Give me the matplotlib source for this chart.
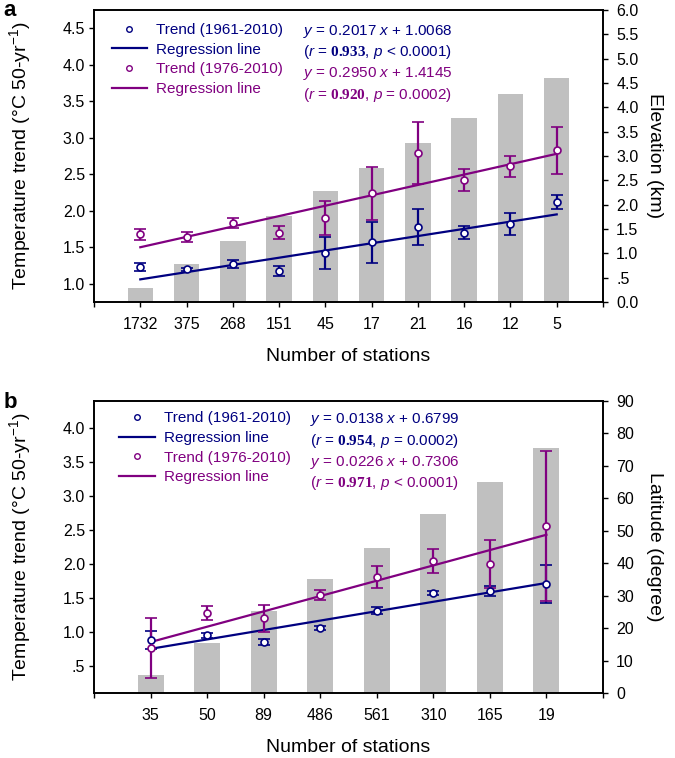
import numpy as np
import matplotlib
matplotlib.use('Agg')
import matplotlib.pyplot as plt
from matplotlib.lines import Line2D

plt.rcParams['font.family'] = ['Liberation Sans', 'DejaVu Sans']
plt.rcParams['mathtext.fontset'] = 'custom'
plt.rcParams['mathtext.rm'] = 'Liberation Sans'
plt.rcParams['mathtext.it'] = 'Liberation Sans:italic'
plt.rcParams['mathtext.bf'] = 'Liberation Serif:bold'

BLUE = '#000080'
PURPLE = '#800080'
GREY = '#c0c0c0'

# ---- panel a : elevation bands ----
stations_a = ['1732', '375', '268', '151', '45', '17', '21', '16', '12', '5']
elev_km = [0.29, 0.78, 1.25, 1.77, 2.28, 2.75, 3.26, 3.78, 4.27, 4.60]
trend61_a = [1.23, 1.20, 1.27, 1.17, 1.42, 1.57, 1.78, 1.70, 1.82, 2.12]
err61_a = [0.05, 0.02, 0.06, 0.07, 0.22, 0.28, 0.25, 0.09, 0.15, 0.09]
trend76_a = [1.68, 1.64, 1.83, 1.70, 1.90, 2.24, 2.79, 2.42, 2.61, 2.83]
err76_a = [0.075, 0.07, 0.07, 0.085, 0.23, 0.36, 0.43, 0.15, 0.145, 0.32]
reg61_a = [1.06, 1.95]   # regression line, first and last band
reg76_a = [1.50, 2.78]
eq_a = [r'$y$ = 0.2017 $x$ + 1.0068', r'($r$ = $\mathbf{0.933}$, $p$ < 0.0001)',
        r'$y$ = 0.2950 $x$ + 1.4145', r'($r$ = $\mathbf{0.920}$, $p$ = 0.0002)']

# ---- panel b : latitude bands ----
stations_b = ['35', '50', '89', '486', '561', '310', '165', '19']
lat_deg = [5.5, 15.4, 25.3, 35.1, 44.7, 55.2, 65.0, 75.5]
trend61_b = [0.88, 0.95, 0.85, 1.06, 1.31, 1.57, 1.60, 1.71]
err61_b = [0.13, 0.04, 0.04, 0.03, 0.05, 0.03, 0.07, 0.28]
trend76_b = [0.76, 1.28, 1.20, 1.54, 1.81, 2.04, 2.00, 2.56]
err76_b = [0.44, 0.10, 0.20, 0.07, 0.16, 0.18, 0.36, 1.11]
reg61_b = [0.75, 1.72]
reg76_b = [0.85, 2.43]
eq_b = [r'$y$ = 0.0138 $x$ + 0.6799', r'($r$ = $\mathbf{0.954}$, $p$ = 0.0002)',
        r'$y$ = 0.0226 $x$ + 0.7306', r'($r$ = $\mathbf{0.971}$, $p$ < 0.0001)']


def draw_panel(rect, labels, bars, t61, e61, t76, e76, r61, r76, eqs,
               ylim, yticks, yticklabels, rlim, rticks, rticklabels, rlabel,
               barw, leg_xy, eq_x, eq_ys):
    ax = fig.add_axes(rect)
    ax2 = ax.twinx()
    n = len(labels)
    x = np.arange(1, n + 1)

    ax2.bar(x, bars, width=barw, color=GREY, zorder=1)
    ax2.set_ylim(*rlim)
    ax2.set_yticks(rticks)
    ax2.set_yticklabels(rticklabels)
    ax2.set_ylabel(rlabel, rotation=-90, fontsize=14)
    ax2.yaxis.set_label_coords(1.118, 0.5)

    ax.set_zorder(ax2.get_zorder() + 1)
    ax.patch.set_visible(False)

    ax.plot([x[0], x[-1]], r61, color=BLUE, lw=1.6)
    ax.plot([x[0], x[-1]], r76, color=PURPLE, lw=1.6)
    ax.errorbar(x, t61, yerr=e61, fmt='o', color=BLUE, mfc='white', mec=BLUE,
                ms=5, mew=1.2, capsize=4.3, elinewidth=1.6, capthick=1.6)
    ax.errorbar(x, t76, yerr=e76, fmt='o', color=PURPLE, mfc='white', mec=PURPLE,
                ms=5, mew=1.2, capsize=4.3, elinewidth=1.6, capthick=1.6)

    ax.set_xlim(0, n + 1)
    ax.set_xticks(np.arange(0, n + 2))
    ax.set_xticklabels([''] + labels + [''])
    ax.set_ylim(*ylim)
    ax.set_yticks(yticks)
    ax.set_yticklabels(yticklabels)
    ax.set_xlabel('Number of stations', fontsize=14)
    ax.xaxis.set_label_coords(0.5, -0.188)
    ax.xaxis.label.set_verticalalignment('center')
    ax.set_ylabel('Temperature trend (°C 50-yr$^{-1}$)', fontsize=14)
    ax.yaxis.set_label_coords(-0.12, 0.5)

    for a in (ax, ax2):
        for s in a.spines.values():
            s.set_linewidth(1.2)
        a.tick_params(direction='out', length=3.5, width=1.0, labelsize=11.5)
    ax.tick_params(axis='x', pad=7)
    ax.tick_params(axis='y', pad=3)
    ax2.tick_params(axis='y', pad=6)

    handles = [Line2D([], [], ls='none', marker='o', ms=4, mfc='white', mec=BLUE),
               Line2D([], [], color=BLUE, lw=1.6),
               Line2D([], [], ls='none', marker='o', ms=4, mfc='white', mec=PURPLE),
               Line2D([], [], color=PURPLE, lw=1.6)]
    names = ['Trend (1961-2010)', 'Regression line', 'Trend (1976-2010)', 'Regression line']
    leg = ax.legend(handles, names, loc='upper left', bbox_to_anchor=leg_xy,
                    frameon=False, fontsize=11, borderpad=0, borderaxespad=0,
                    handlelength=2.3, handletextpad=0.6, labelspacing=0.37,
                    labelcolor=[BLUE, BLUE, PURPLE, PURPLE])
    for i, s in enumerate(eqs):
        ax.text(eq_x, eq_ys[i], s, transform=ax.transAxes, fontsize=11,
                color=BLUE if i < 2 else PURPLE, va='center', ha='left')
    return ax


fig = plt.figure(figsize=(6.75, 7.58), dpi=100)

draw_panel([0.1393, 0.6016, 0.754, 0.3852], stations_a, elev_km,
           trend61_a, err61_a, trend76_a, err76_a, reg61_a, reg76_a, eq_a,
           (0.75, 4.75), np.arange(1.0, 4.51, 0.5),
           ['1.0', '1.5', '2.0', '2.5', '3.0', '3.5', '4.0', '4.5'],
           (0, 6.0), np.arange(0, 6.01, 0.5),
           ['0.0', '.5', '1.0', '1.5', '2.0', '2.5', '3.0', '3.5', '4.0', '4.5',
            '5.0', '5.5', '6.0'],
           'Elevation (km)', 0.55, (0.035, 0.955), 0.41,
           [0.928, 0.856, 0.784, 0.709])

draw_panel([0.1393, 0.0858, 0.754, 0.3852], stations_b, lat_deg,
           trend61_b, err61_b, trend76_b, err76_b, reg61_b, reg76_b, eq_b,
           (0.1, 4.4), np.arange(0.5, 4.01, 0.5),
           ['.5', '1.0', '1.5', '2.0', '2.5', '3.0', '3.5', '4.0'],
           (0, 90), np.arange(0, 91, 10),
           [str(v) for v in range(0, 91, 10)],
           'Latitude (degree)', 0.46, (0.05, 0.965), 0.425,
           [0.935, 0.863, 0.791, 0.719])

fig.text(0.005, 1 - 10 / 758, 'a', fontsize=16, fontweight='bold', va='center')
fig.text(0.005, 1 - 402 / 758, 'b', fontsize=16, fontweight='bold', va='center')

fig.savefig('out.png', dpi=100)
